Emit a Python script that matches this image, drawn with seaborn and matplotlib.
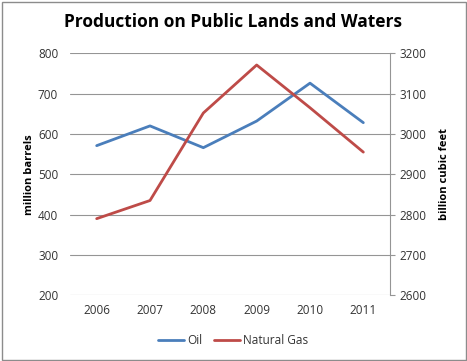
import matplotlib
matplotlib.use("Agg")
import matplotlib.pyplot as plt
import seaborn as sns
import pandas as pd
from matplotlib.patches import Rectangle
from matplotlib.lines import Line2D

years = [2006, 2007, 2008, 2009, 2010, 2011]
oil = [571, 620, 566, 632, 726, 628]
gas = [2790, 2835, 3052, 3171, 3065, 2955]
left_ticks = [200, 300, 400, 500, 600, 700, 800]
right_ticks = [2600, 2700, 2800, 2900, 3000, 3100, 3200]

sns.set_theme(style="white")
plt.rcParams['font.family'] = ['Open Sans', 'DejaVu Sans']

BLUE = "#4A7EBB"
RED = "#BE4B48"
GRID = "#959595"
TXT = "#333333"

fig = plt.figure(figsize=(4.67, 3.61), dpi=100)
ax = fig.add_axes([70/467, 1-295.3/361, 320/467, 242/361])
ax2 = ax.twinx()

df = pd.DataFrame({"year": years, "oil": oil, "gas": gas})
sns.lineplot(data=df, x="year", y="oil", ax=ax, color=BLUE, lw=2.0)
sns.lineplot(data=df, x="year", y="gas", ax=ax2, color=RED, lw=2.0)

ax.set_xlim(2005.5, 2011.5)
ax.set_ylim(200, 800)
ax2.set_ylim(2600, 3200)
ax.set_xticks(years)
ax.set_xticklabels([str(y) for y in years])
ax.set_yticks(left_ticks)
ax2.set_yticks(right_ticks)

for a in (ax, ax2):
    for s in a.spines.values():
        s.set_visible(False)
ax2.spines['right'].set_visible(True)
ax2.spines['right'].set_color(GRID)
ax2.spines['right'].set_linewidth(0.8)

ax.grid(axis='y', color=GRID, lw=0.8)
ax.set_axisbelow(True)
ax.tick_params(axis='y', length=0, pad=8.5, labelsize=8.5, labelcolor=TXT)
ax.tick_params(axis='x', length=0, pad=6.5, labelsize=8.5, labelcolor=TXT)
ax2.tick_params(axis='y', length=3.6, width=0.8, color=GRID, pad=3.5, labelsize=8.5, labelcolor=TXT)

ax.set_xlabel("")
ax.set_ylabel("million barrels", fontsize=8, fontweight='bold', color="black", labelpad=2)
ax2.set_ylabel("billion cubic feet", fontsize=8, fontweight='bold', color="black", labelpad=9)

fig.text(233/467, 1-22/361, "Production on Public Lands and Waters", ha='center', va='center',
         fontsize=12.5, fontweight='bold', color='black')

handles = [Line2D([0], [0], color=BLUE, lw=2.0), Line2D([0], [0], color=RED, lw=2.0)]
fig.legend(handles, ["Oil", "Natural Gas"], loc='center', bbox_to_anchor=(233/467, 1-341/361),
           ncol=2, frameon=False, fontsize=8.5, handlelength=2.2, handletextpad=0.25,
           columnspacing=1.0, labelcolor=TXT)

fig.patches.append(Rectangle((1.5/467, 1.5/361), 464/467, 358/361, transform=fig.transFigure,
                             fill=False, edgecolor="#8C8C8C", lw=1.0))

fig.savefig("out.png", dpi=100)
